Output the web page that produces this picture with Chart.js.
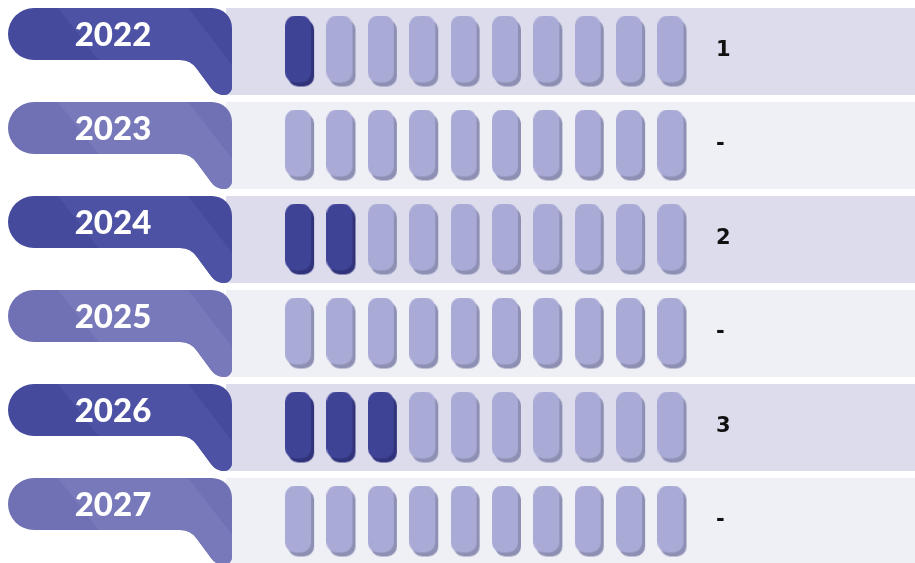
<!DOCTYPE html>
<html>
<head>
<meta charset="utf-8">
<script src="https://cdn.jsdelivr.net/npm/chart.js@4.4.1/dist/chart.umd.min.js"></script>
<style>
  body { margin: 0; background: #ffffff; }
  #wrap { width: 915px; height: 563px; position: relative; }
</style>
</head>
<body>
<div id="wrap"><canvas id="pillChart"></canvas></div>
<script>
  // Data
  const years = ['2022', '2023', '2024', '2025', '2026', '2027'];
  const values = [1, null, 2, null, 3, null];
  const valueLabels = ['1', '-', '2', '-', '3', '-'];
  const slotCount = 10;

  // Colours
  const darkTab = '#464a9d';
  const darkTabLight = '#4e52a4';
  const lightTab = '#6f71b4';
  const lightTabLight = '#7779ba';
  const darkBand = '#dcdced';
  const lightBand = '#efeff6';

  // Function to build a pill image used as point style
  function makePill(body, shadow) {
    const c = document.createElement('canvas');
    c.width = 30;
    c.height = 72;
    const ctx = c.getContext('2d');
    ctx.fillStyle = shadow;
    ctx.beginPath();
    ctx.roundRect(3, 4, 26, 67, 10);
    ctx.fill();
    ctx.fillStyle = body;
    ctx.beginPath();
    ctx.roundRect(0, 0, 26, 67, 10);
    ctx.fill();
    return c;
  }

  const filledPill = makePill('#3f4396', '#31337a');
  const emptyPill = makePill('#a9abd6', '#8d8fb3');

  // Build unit points for each row
  const filledPoints = [];
  const emptyPoints = [];
  years.forEach((year, idx) => {
    const count = values[idx] || 0;
    for (let i = 0; i < slotCount; i++) {
      const p = { x: i + 0.5, y: year };
      if (i < count) filledPoints.push(p); else emptyPoints.push(p);
    }
  });

  function tabPath(ctx, T) {
    ctx.beginPath();
    ctx.moveTo(34, T);
    ctx.lineTo(212, T);
    ctx.arcTo(232, T, 232, T + 20, 20);
    ctx.lineTo(232, T + 79);
    ctx.arcTo(232, T + 87, 224, T + 87, 8);
    ctx.quadraticCurveTo(216, T + 87, 211, T + 80);
    ctx.lineTo(197, T + 61);
    ctx.quadraticCurveTo(191, T + 52, 180, T + 52);
    ctx.lineTo(34, T + 52);
    ctx.arc(34, T + 26, 26, Math.PI / 2, Math.PI * 1.5);
    ctx.closePath();
  }

  // Plugin: row bands, year tabs and value labels
  const rowDecor = {
    id: 'rowDecor',
    beforeDatasetsDraw(chart) {
      const ctx = chart.ctx;
      const yScale = chart.scales.y;
      const w = chart.width;
      years.forEach((year, idx) => {
        const cy = yScale.getPixelForValue(idx);
        const T = cy - 43.5;
        const dark = idx % 2 === 0;
        ctx.save();
        ctx.fillStyle = dark ? darkBand : lightBand;
        ctx.fillRect(226, T, w - 226, 87);

        tabPath(ctx, T);
        ctx.fillStyle = dark ? darkTab : lightTab;
        ctx.fill();
        ctx.save();
        tabPath(ctx, T);
        ctx.clip();
        ctx.fillStyle = dark ? darkTabLight : lightTabLight;
        ctx.beginPath();
        ctx.moveTo(58, T);
        ctx.lineTo(188, T);
        ctx.lineTo(258, T + 90);
        ctx.lineTo(128, T + 90);
        ctx.closePath();
        ctx.fill();
        ctx.restore();

        ctx.fillStyle = '#ffffff';
        ctx.font = '900 33px Lato';
        ctx.textAlign = 'center';
        ctx.textBaseline = 'middle';
        ctx.fillText(year, 113, T + 27);
        ctx.restore();
      });
    },
    afterDatasetsDraw(chart) {
      const ctx = chart.ctx;
      const xScale = chart.scales.x;
      const yScale = chart.scales.y;
      ctx.save();
      ctx.fillStyle = '#111111';
      ctx.font = 'bold 21px "DejaVu Sans"';
      ctx.textAlign = 'left';
      ctx.textBaseline = 'middle';
      valueLabels.forEach((label, idx) => {
        ctx.fillText(label, xScale.getPixelForValue(slotCount + 0.55), yScale.getPixelForValue(idx) - 1);
      });
      ctx.restore();
    }
  };

  const chart = new Chart(document.getElementById('pillChart'), {
    type: 'scatter',
    data: {
      datasets: [
        { label: 'Filled', data: filledPoints, pointStyle: filledPill, pointRadius: 14, clip: false },
        { label: 'Empty', data: emptyPoints, pointStyle: emptyPill, pointRadius: 14, clip: false }
      ]
    },
    options: {
      responsive: true,
      maintainAspectRatio: false,
      animation: false,
      events: [],
      layout: { padding: { left: 279.4, right: 2.3, top: 51.5, bottom: 41.5 } },
      scales: {
        x: { type: 'linear', min: 0, max: 15, display: false },
        y: { type: 'category', labels: years, offset: false, display: false }
      },
      plugins: {
        legend: { display: false },
        tooltip: { enabled: false }
      }
    },
    plugins: [rowDecor]
  });
</script>
</body>
</html>
